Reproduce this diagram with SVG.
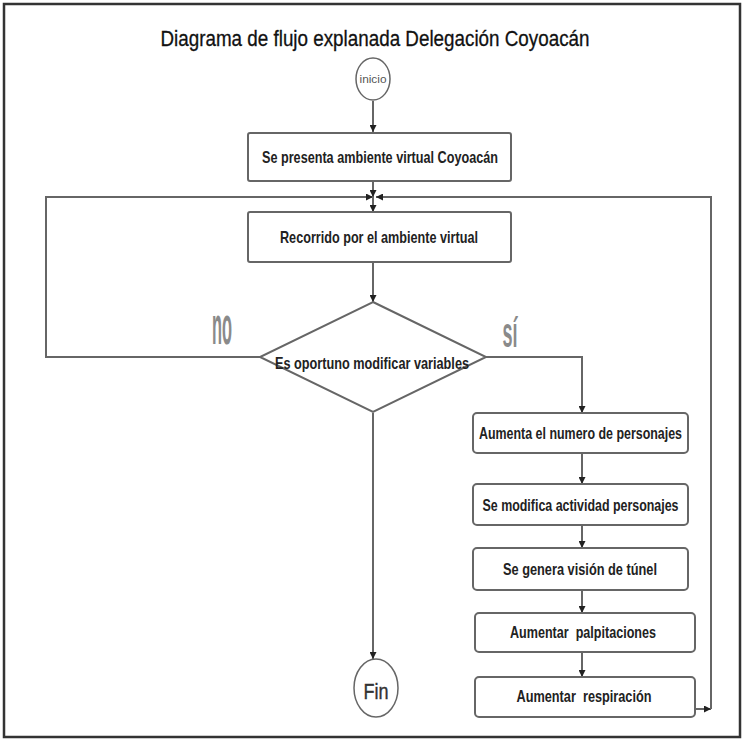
<svg xmlns="http://www.w3.org/2000/svg" width="743" height="741" viewBox="0 0 743 741">
<defs>
<marker id="ah" viewBox="0 0 8 8" refX="8" refY="4" markerWidth="7" markerHeight="7" markerUnits="userSpaceOnUse" orient="auto">
<path d="M0,0 L8,4 L0,8 z" fill="#222"/>
</marker>
<style>
.box{fill:#fff;stroke:#666;stroke-width:2}
.lbl{font-family:"Liberation Sans",Arial,sans-serif;font-weight:bold;font-size:17px;fill:#222;text-anchor:middle}
.con{fill:none;stroke:#666;stroke-width:2;marker-end:url(#ah)}
.yn{font-family:"Liberation Sans",Arial,sans-serif;font-weight:bold;font-size:28px;fill:#8a8a8a;text-anchor:middle}
</style>
</defs>
<rect x="0" y="0" width="743" height="741" fill="#fff"/>
<rect x="4" y="4" width="736" height="733" fill="none" stroke="#333" stroke-width="2.5"/>
<text x="375" y="46" font-family="'Liberation Sans',Arial,sans-serif" font-size="22" fill="#111" stroke="#111" stroke-width="0.3" text-anchor="middle" textLength="429" lengthAdjust="spacingAndGlyphs">Diagrama de flujo explanada Delegación Coyoacán</text>

<g id="connectors">
<line class="con" x1="373" y1="101" x2="373" y2="132"/>
<line class="con" x1="373" y1="182" x2="373" y2="197"/>
<polyline class="con" points="260,357 46,357 46,197 373,197"/>
<polyline class="con" points="695,709 711,709"/>
<polyline class="con" points="711,709 711,197 376,197"/>
<line class="con" x1="373" y1="197" x2="373" y2="212"/>
<line class="con" x1="373" y1="262" x2="373" y2="302"/>
<polyline class="con" points="486,357 582,357 582,413"/>
<line class="con" x1="582" y1="453" x2="582" y2="484"/>
<line class="con" x1="582" y1="525" x2="582" y2="548"/>
<line class="con" x1="582" y1="590" x2="582" y2="613"/>
<line class="con" x1="582" y1="652" x2="582" y2="677"/>
<line class="con" x1="373" y1="413" x2="373" y2="659"/>
<text class="yn" transform="translate(222,344) scale(1,1.85)" textLength="20" lengthAdjust="spacingAndGlyphs">no</text>
<text class="yn" transform="translate(510,347) scale(1,1.5)" textLength="15" lengthAdjust="spacingAndGlyphs">sí</text>
</g>

<g id="inicio">
<ellipse cx="373" cy="79" rx="17" ry="21" fill="#fff" stroke="#666" stroke-width="1.5"/>
<text x="373" y="83" font-family="'Liberation Sans',Arial,sans-serif" font-size="11" fill="#555" text-anchor="middle" textLength="27" lengthAdjust="spacingAndGlyphs">inicio</text>
</g>

<g id="presenta">
<rect class="box" x="248" y="133" width="263" height="48" rx="2"/>
<text class="lbl" x="380" y="163" textLength="236" lengthAdjust="spacingAndGlyphs">Se presenta ambiente virtual Coyoacán</text>
</g>

<g id="recorrido">
<rect class="box" x="248" y="212" width="263" height="50" rx="2"/>
<text class="lbl" x="379" y="243" textLength="198" lengthAdjust="spacingAndGlyphs">Recorrido por el ambiente virtual</text>
</g>

<g id="decision">
<polygon points="373,302 486,357 373,412 260,357" fill="#fff" stroke="#666" stroke-width="2"/>
<text class="lbl" x="372" y="369" textLength="194" lengthAdjust="spacingAndGlyphs">Es oportuno modificar variables</text>
</g>

<g id="aumenta">
<rect class="box" x="473" y="413" width="215" height="40" rx="4"/>
<text class="lbl" x="580.5" y="439" textLength="203" lengthAdjust="spacingAndGlyphs">Aumenta el numero de personajes</text>
</g>

<g id="modifica">
<rect class="box" x="473" y="484" width="215" height="41" rx="4"/>
<text class="lbl" x="580.5" y="511" textLength="196" lengthAdjust="spacingAndGlyphs">Se modifica actividad personajes</text>
</g>

<g id="tunel">
<rect class="box" x="473" y="548" width="215" height="42" rx="4"/>
<text class="lbl" x="580" y="575" textLength="154" lengthAdjust="spacingAndGlyphs">Se genera visión de túnel</text>
</g>

<g id="palpitaciones">
<rect class="box" x="475" y="613" width="220" height="39" rx="4"/>
<text class="lbl" x="583" y="638" textLength="146" lengthAdjust="spacingAndGlyphs" xml:space="preserve">Aumentar  palpitaciones</text>
</g>

<g id="respiracion">
<rect class="box" x="475" y="677" width="220" height="40" rx="4"/>
<text class="lbl" x="584" y="702" textLength="135" lengthAdjust="spacingAndGlyphs" xml:space="preserve">Aumentar  respiración</text>
</g>

<g id="fin">
<ellipse cx="376" cy="688" rx="22" ry="29" fill="#fff" stroke="#666" stroke-width="1.5"/>
<text x="376" y="699" font-family="'Liberation Sans',Arial,sans-serif" font-size="22" fill="#333" stroke="#333" stroke-width="0.4" text-anchor="middle" textLength="25" lengthAdjust="spacingAndGlyphs">Fin</text>
</g>
</svg>
